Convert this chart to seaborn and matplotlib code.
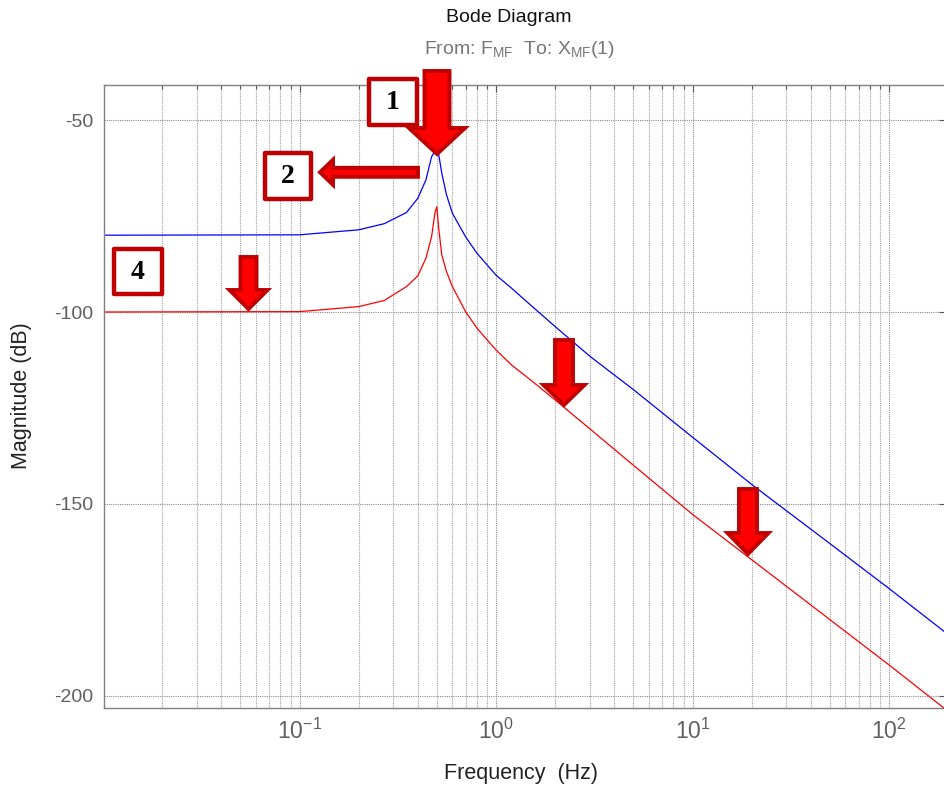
import numpy as np
import pandas as pd
import seaborn as sns
import matplotlib
import matplotlib.pyplot as plt
from matplotlib.patches import Polygon, Rectangle
matplotlib.use('Agg')

sns.set_theme(style='white')
plt.rcParams['font.family'] = ['Liberation Sans', 'DejaVu Sans']
plt.rcParams['mathtext.default'] = 'regular'
plt.rcParams['axes.unicode_minus'] = False

# frequency points (Hz) and magnitude (dB)
freq = [0.01, 0.1, 0.2, 0.27, 0.35, 0.4, 0.44, 0.47, 0.49, 0.5, 0.51, 0.53, 0.56,
        0.6, 0.7, 0.8, 1.0, 1.2, 1.5, 2, 3, 5, 10, 20, 50, 100, 200]
mag_blue = [-80.0, -79.9, -78.6, -77.0, -74.1, -70.4, -65.6, -59.6, -58.0, -57.8, -58.7,
            -63.9, -69.5, -74.3, -80.4, -84.7, -90.4, -93.8, -98.2, -103.8, -111.5,
            -120.2, -132.6, -144.9, -160.3, -172.0, -184.0]
mag_red = [-100.0, -99.9, -98.6, -97.0, -93.4, -90.6, -86.0, -80.4, -73.9, -72.6, -77.8,
           -85.2, -89.5, -93.4, -99.9, -104.2, -109.9, -113.8, -117.7, -122.9, -130.4,
           -139.9, -152.7, -164.5, -180.1, -191.9, -204.0]
y_ticks = [-50, -100, -150, -200]

W, H = 944, 789


def fx(x):
    return x / W


def fy(y):
    return 1 - y / H


df = pd.DataFrame({
    'freq': freq * 2,
    'mag': mag_blue + mag_red,
    'curve': ['blue'] * len(freq) + ['red'] * len(freq),
})

fig = plt.figure(figsize=(W / 100, H / 100), dpi=100)
ax = fig.add_axes([fx(104), fy(708), fx(946) - fx(104), fy(85) - fy(708)])
ax.set_xscale('log')
sns.lineplot(data=df, x='freq', y='mag', hue='curve', palette={'blue': '#0000FF', 'red': '#FF0000'},
             linewidth=0.9, legend=False, sort=False, estimator=None, ax=ax)

ax.set_xlim(10 ** ((104 - 496) / 196.5), 10 ** ((946 - 496) / 196.5))
ax.set_ylim(-200 - 12 / 3.84, -50 + 35 / 3.84)
ax.set_yticks(y_ticks)
ax.set_xlabel('')
ax.set_ylabel('')

ax.grid(True, which='major', axis='both', ls=(0, (1, 1)), color='#8c8c8c', lw=0.8)
ax.grid(True, which='minor', axis='x', ls=(0, (1, 1)), color='#a0a0a0', lw=0.8)
ax.tick_params(which='both', direction='in', top=True, right=True, color='#555555',
               labelcolor='#606060', labelsize=14)
ax.tick_params(which='major', length=5, width=0.8)
ax.tick_params(which='minor', length=3, width=0.8)
ax.tick_params(axis='x', pad=8, labelsize=16.5)
ax.tick_params(axis='y', pad=8)
for s in ax.spines.values():
    s.set_color('#808080')
    s.set_linewidth(1.0)

fig.text(fx(509), fy(18), 'Bode Diagram', ha='center', va='center', fontsize=14, color='#111111')
fig.text(fx(520), fy(50), r'From: F$_{MF}$  To: X$_{MF}$(1)', ha='center', va='center',
         fontsize=14, color='#777777')
fig.text(fx(22), fy(396), 'Magnitude (dB)', ha='center', va='center', rotation=90,
         fontsize=15.5, color='#222222')
fig.text(fx(521), fy(773), 'Frequency  (Hz)', ha='center', va='center', fontsize=15.5, color='#222222')


def arrow(tail, tip, sw, hw, hl):
    t = np.array(tail, float)
    p = np.array(tip, float)
    d = (p - t) / np.linalg.norm(p - t)
    n = np.array([-d[1], d[0]])
    b = p - d * hl
    pts = [t + n * sw / 2, b + n * sw / 2, b + n * hw / 2, p,
           b - n * hw / 2, b - n * sw / 2, t - n * sw / 2]
    pts = [(fx(q[0]), fy(q[1])) for q in pts]
    fig.patches.append(Polygon(pts, closed=True, transform=fig.transFigure, facecolor='#FF0000',
                               edgecolor='#C00000', lw=2.8, joinstyle='miter', zorder=5))


def box(x0, y0, x1, y1, label):
    fig.patches.append(Rectangle((fx(x0), fy(y1)), fx(x1) - fx(x0), fy(y0) - fy(y1),
                                 transform=fig.transFigure, facecolor='white', edgecolor='#C00000',
                                 lw=3.2, joinstyle='round', zorder=5))
    fig.text(fx((x0 + x1) / 2), fy((y0 + y1) / 2 + 1), label, ha='center', va='center',
             fontsize=20, fontweight='bold', family='Liberation Serif', color='black', zorder=6)


box(369, 78.5, 417, 124.5, '1')
box(264.5, 153, 311, 198.5, '2')
box(114, 248.5, 162, 294, '4')

arrow((437, 71), (437, 154), 25, 56, 26)
arrow((418, 172.3), (320, 172.3), 9, 25, 13)
arrow((248.5, 257), (248.5, 309), 16, 38, 19)
arrow((564, 340), (564, 405), 18, 41, 20)
arrow((748, 489), (748, 554), 18, 41, 21)

fig.savefig('out.png', dpi=100)
